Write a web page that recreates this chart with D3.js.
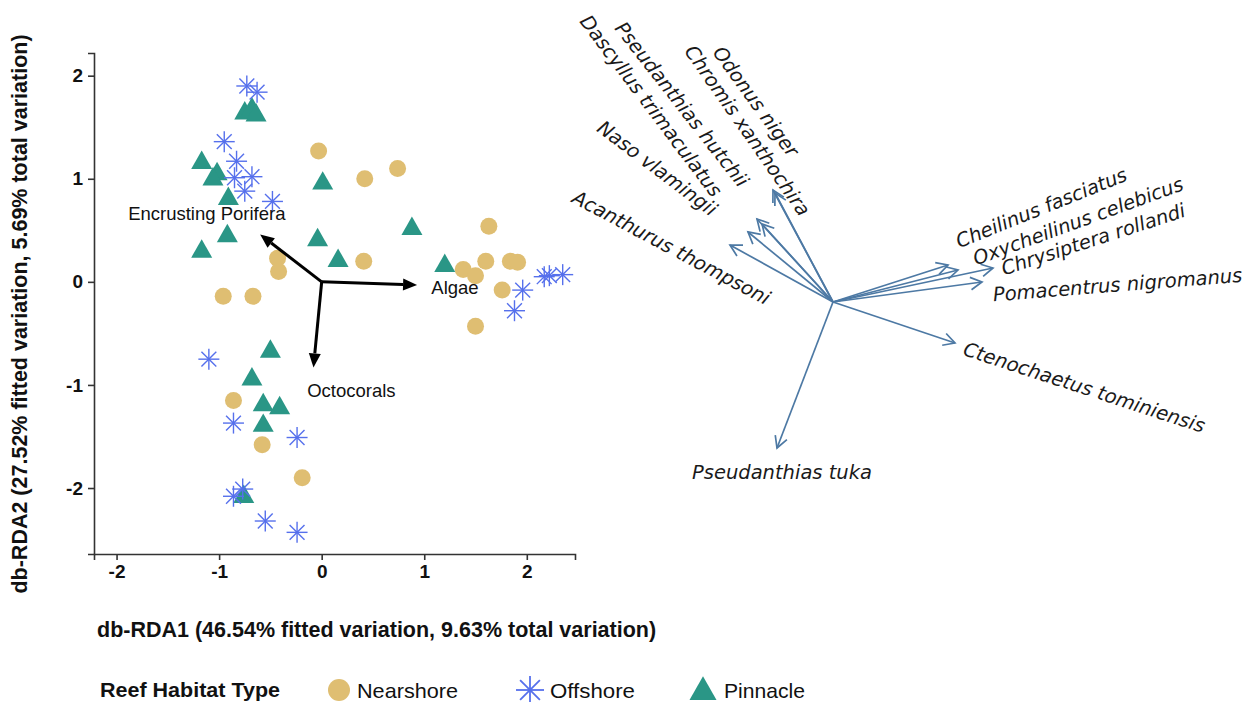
<!DOCTYPE html>
<html>
<head>
<meta charset="utf-8">
<script src="https://cdn.jsdelivr.net/npm/d3@7"></script>
<style>
  html, body { margin: 0; padding: 0; background: #fff; }
  svg { display: block; }
</style>
</head>
<body>
<svg id="chart" width="1256" height="702"></svg>
<script>
// ---------------- data ----------------
// Nearshore sites (db-RDA1, db-RDA2)
const nearX = [-0.03, 0.42, 0.74, 1.63, 0.41, -0.43, -0.42, -0.96, -0.67, 1.38, 1.50, 1.60, 1.84, 1.91, 1.76, 1.50, -0.86, -0.58, -0.19];
const nearY = [1.27, 1.00, 1.10, 0.54, 0.20, 0.23, 0.10, -0.14, -0.14, 0.12, 0.06, 0.20, 0.20, 0.19, -0.08, -0.43, -1.15, -1.58, -1.90];
// Offshore sites
const offX = [-0.73, -0.63, -0.95, -0.83, -0.85, -0.68, -0.75, -0.48, 2.17, 2.22, 2.35, 1.96, 1.88, -1.10, -0.86, -0.24, -0.77, -0.86, -0.55, -0.24];
const offY = [1.90, 1.84, 1.36, 1.17, 1.01, 1.02, 0.88, 0.78, 0.05, 0.06, 0.07, -0.08, -0.28, -0.75, -1.37, -1.51, -2.01, -2.08, -2.32, -2.43];
// Pinnacle sites
const pinX = [-0.75, -0.68, -0.64, -1.17, -1.02, -1.06, -0.91, 0.01, -0.92, -1.17, -0.04, 0.16, 0.88, 1.20, -0.50, -0.68, -0.57, -0.41, -0.57, -0.76];
const pinY = [1.65, 1.69, 1.63, 1.17, 1.06, 1.01, 0.82, 0.97, 0.46, 0.31, 0.42, 0.22, 0.53, 0.17, -0.66, -0.93, -1.18, -1.21, -1.38, -2.07];

// Environmental vectors
const envNames = ["Encrusting Porifera", "Algae", "Octocorals"];
const envX = [-0.60, 0.93, -0.08];
const envY = [0.46, -0.03, -0.83];
const envLabelX = [-1.12, 1.30, 0.29];
const envLabelY = [0.66, -0.05, -1.05];

// Species vectors (biplot loadings)
const spNames = ["Odonus niger", "Chromis xanthochira", "Pseudanthias hutchii", "Dascyllus trimaculatus",
  "Naso vlamingii", "Acanthurus thompsoni", "Cheilinus fasciatus", "Oxycheilinus celebicus",
  "Chrysiptera rollandi", "Pomacentrus nigromanus", "Ctenochaetus tominiensis", "Pseudanthias tuka"];
const spX = [-0.60, -0.58, -0.76, -0.71, -0.85, -1.03, 1.15, 1.25, 1.60, 1.49, 1.22, -0.56];
const spY = [1.12, 1.09, 0.83, 0.78, 0.70, 0.57, 0.37, 0.32, 0.34, 0.20, -0.41, -1.46];
// label anchors (same loading units) and text angles
const spLabelX = [-1.17, -1.45, -2.15, -2.50, -2.35, -2.61, 1.22, 1.39, 1.67, 1.58, 1.29, -1.43];
const spLabelY = [2.55, 2.56, 2.79, 2.86, 1.78, 1.07, 0.59, 0.42, 0.32, 0.07, -0.46, -1.70];
const spLabelAngle = [54, 55, 52, 53, 37, 28, -22, -20, -18, -4.5, 18, 0];

const xTicks = [-2, -1, 0, 1, 2];
const yTicks = [-2, -1, 0, 1, 2];
const groups = ["Nearshore", "Offshore", "Pinnacle"];

// ---------------- styles ----------------
const cNear = "#DFBE72", cOff = "#5670EC", cPin = "#2A9686", cSp = "#4D79A4";
const sansFont = "'Liberation Sans', Arial, Helvetica, sans-serif";

const svg = d3.select("#chart");

// ---------------- left panel ----------------
const x = d3.scaleLinear().domain([-2.22, 2.47]).range([94, 575]);
const y = d3.scaleLinear().domain([-2.64, 2.22]).range([554, 53]);
const fmt = d => String(d);

const xAxis = svg.append("g").attr("transform", "translate(0,554)")
  .call(d3.axisBottom(x).tickValues(xTicks).tickSize(6).tickPadding(5).tickFormat(fmt));
const yAxis = svg.append("g").attr("transform", "translate(94,0)")
  .call(d3.axisLeft(y).tickValues(yTicks).tickSize(6).tickPadding(5).tickFormat(fmt));
[xAxis, yAxis].forEach(a => {
  a.select(".domain").attr("stroke", "#333").attr("stroke-width", 1.6);
  a.selectAll(".tick line").attr("stroke", "#333").attr("stroke-width", 1.6);
  a.selectAll(".tick text").attr("fill", "#111").attr("font-size", 19).attr("font-weight", "bold")
    .attr("font-family", sansFont);
});

// axis titles
svg.append("text").attr("x", 97).attr("y", 630).attr("dominant-baseline", "central")
  .attr("font-family", sansFont).attr("font-size", 21.5).attr("font-weight", "bold").attr("fill", "#111")
  .text("db-RDA1 (46.54% fitted variation, 9.63% total variation)");
svg.append("text").attr("transform", "translate(20,314) rotate(-90)").attr("text-anchor", "middle")
  .attr("dominant-baseline", "central")
  .attr("font-family", sansFont).attr("font-size", 21.5).attr("font-weight", "bold").attr("fill", "#111")
  .text("db-RDA2 (27.52% fitted variation, 5.69% total variation)");

// symbol helpers
function asterisk(g, cx, cy, r, color, sw) {
  const a = r * Math.SQRT1_2;
  const segs = [[-r, 0, r, 0], [0, -r, 0, r], [-a, -a, a, a], [-a, a, a, -a]];
  segs.forEach(s => g.append("line").attr("x1", cx + s[0]).attr("y1", cy + s[1])
    .attr("x2", cx + s[2]).attr("y2", cy + s[3]).attr("stroke", color).attr("stroke-width", sw));
}
function triPath(cx, cy, w) {
  const h = w * 0.88;
  return `M${cx},${cy - h * 0.58}L${cx + w / 2},${cy + h * 0.42}L${cx - w / 2},${cy + h * 0.42}Z`;
}

const pts = svg.append("g");
// Nearshore
pts.selectAll("circle.near").data(nearX.map((v, i) => [v, nearY[i]])).join("circle")
  .attr("class", "near").attr("cx", d => x(d[0])).attr("cy", d => y(d[1])).attr("r", 8.5).attr("fill", cNear);
// Pinnacle
pts.selectAll("path.pin").data(pinX.map((v, i) => [v, pinY[i]])).join("path")
  .attr("class", "pin").attr("d", d => triPath(x(d[0]), y(d[1]), 21)).attr("fill", cPin);
// Offshore
const offG = pts.append("g");
offX.forEach((v, i) => asterisk(offG, x(v), y(offY[i]), 10.5, cOff, 1.4));

// environmental arrows
const env = svg.append("g");
envNames.forEach((n, i) => {
  const x0 = x(0), y0 = y(0), x1 = x(envX[i]), y1 = y(envY[i]);
  const ang = Math.atan2(y1 - y0, x1 - x0);
  const L = 14, W = 6;
  const bx = x1 - L * Math.cos(ang), by = y1 - L * Math.sin(ang);
  env.append("line").attr("x1", x0).attr("y1", y0).attr("x2", bx).attr("y2", by)
    .attr("stroke", "#000").attr("stroke-width", 3);
  const px = -Math.sin(ang) * W, py = Math.cos(ang) * W;
  env.append("path").attr("d", `M${x1},${y1}L${bx + px},${by + py}L${bx - px},${by - py}Z`).attr("fill", "#000");
  env.append("text").attr("x", x(envLabelX[i])).attr("y", y(envLabelY[i]))
    .attr("text-anchor", "middle").attr("dominant-baseline", "central")
    .attr("font-family", sansFont).attr("font-size", 18.5).attr("fill", "#111").text(n);
});

// ---------------- right panel (species biplot) ----------------
const bx = d3.scaleLinear().domain([-1, 1]).range([733, 933]);
const by = d3.scaleLinear().domain([-1, 1]).range([402, 202]);
const sp = svg.append("g");
spNames.forEach((n, i) => {
  const x0 = bx(0), y0 = by(0), x1 = bx(spX[i]), y1 = by(spY[i]);
  const ang = Math.atan2(y1 - y0, x1 - x0);
  sp.append("line").attr("x1", x0).attr("y1", y0).attr("x2", x1).attr("y2", y1)
    .attr("stroke", cSp).attr("stroke-width", 1.7);
  const L = 13, a1 = ang + Math.PI - 0.5, a2 = ang + Math.PI + 0.5;
  sp.append("path").attr("d", `M${x1 + L * Math.cos(a1)},${y1 + L * Math.sin(a1)}L${x1},${y1}L${x1 + L * Math.cos(a2)},${y1 + L * Math.sin(a2)}`)
    .attr("fill", "none").attr("stroke", cSp).attr("stroke-width", 1.7).attr("stroke-linejoin", "miter");
});
spNames.forEach((n, i) => {
  const t = spLabelAngle[i] * Math.PI / 180;
  const sx = bx(spLabelX[i]) + 2 * Math.cos(t), sy = by(spLabelY[i]) + 2 * Math.sin(t);
  sp.append("text").attr("transform", `translate(${sx},${sy}) rotate(${spLabelAngle[i]})`)
    .attr("dominant-baseline", "central").attr("font-family", "'DejaVu Sans', sans-serif")
    .attr("font-style", "italic").attr("font-size", 19.5).attr("fill", "#1a1a1a").text(n);
});

// ---------------- legend ----------------
const lg = svg.append("g");
lg.append("text").attr("x", 100).attr("y", 690).attr("dominant-baseline", "central")
  .attr("font-family", sansFont).attr("font-size", 20).attr("font-weight", "bold").attr("fill", "#111")
  .attr("textLength", 180).attr("lengthAdjust", "spacingAndGlyphs").text("Reef Habitat Type");
lg.append("circle").attr("cx", 339).attr("cy", 690).attr("r", 11).attr("fill", cNear);
asterisk(lg, 530, 690, 14, cOff, 1.8);
lg.append("path").attr("d", triPath(703, 690, 27)).attr("fill", cPin);
const legX = [357, 550, 724], legW = [101, 85, 81];
groups.forEach((g, i) => {
  lg.append("text").attr("x", legX[i]).attr("y", 690).attr("dominant-baseline", "central")
    .attr("font-family", sansFont).attr("font-size", 21).attr("fill", "#111")
    .attr("textLength", legW[i]).attr("lengthAdjust", "spacingAndGlyphs").text(g);
});
</script>
</body>
</html>
